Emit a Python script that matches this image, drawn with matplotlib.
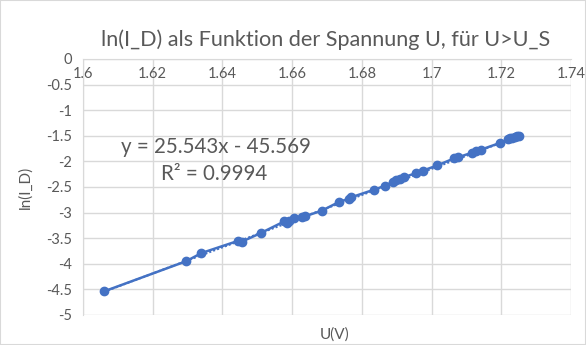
import matplotlib
matplotlib.use("Agg")
import matplotlib.pyplot as plt
from matplotlib.patches import Rectangle

# measured points: U in volt, ln(I_D)
u_vals = [1.6060, 1.6296, 1.6340, 1.6446, 1.6455, 1.6510, 1.6578, 1.6584, 1.6592,
          1.6606, 1.6628, 1.6638, 1.6686, 1.6735, 1.6763, 1.6770, 1.6836, 1.6865,
          1.6889, 1.6898, 1.6910, 1.6920, 1.6955, 1.6975, 1.7016, 1.7065, 1.7076,
          1.7116, 1.7128, 1.7142, 1.7196, 1.7218, 1.7225, 1.7232, 1.7238, 1.7244,
          1.7250]
ln_id = [-4.54, -3.95, -3.79, -3.55, -3.57, -3.40, -3.17, -3.21, -3.17,
         -3.11, -3.09, -3.07, -2.96, -2.79, -2.73, -2.70, -2.55, -2.48,
         -2.40, -2.37, -2.34, -2.31, -2.23, -2.18, -2.08, -1.94, -1.92,
         -1.83, -1.80, -1.77, -1.64, -1.57, -1.55, -1.54, -1.52, -1.51,
         -1.50]

# linear trendline as shown in the chart
trend_slope = 25.543
trend_intercept = -45.569
r_squared = 0.9994

x_ticks = [1.6, 1.62, 1.64, 1.66, 1.68, 1.7, 1.72, 1.74]
x_labels = ["1.6", "1.62", "1.64", "1.66", "1.68", "1.7", "1.72", "1.74"]
y_ticks = [0, -0.5, -1, -1.5, -2, -2.5, -3, -3.5, -4, -4.5, -5]
y_labels = ["0", "-0.5", "-1", "-1.5", "-2", "-2.5", "-3", "-3.5", "-4", "-4.5", "-5"]

blue = "#4472C4"
txt = "#595959"
grid = "#d9d9d9"
plt.rcParams["font.family"] = ["Lato", "DejaVu Sans"]

fig = plt.figure(figsize=(5.86, 3.45), dpi=100)
fig.patches.append(Rectangle((0, 0), 1, 1, transform=fig.transFigure,
                             fill=False, edgecolor=grid, lw=1.5))
ax = fig.add_axes([0.1416, 0.087, 0.8328, 0.742])

ax.set_xlim(1.6, 1.74)
ax.set_ylim(-5, 0)
ax.set_xticks(x_ticks, x_labels)
ax.set_yticks(y_ticks, y_labels)
ax.grid(True, color=grid, lw=1)
ax.set_axisbelow(True)

for s in ["top", "right"]:
    ax.spines[s].set_visible(False)
ax.spines["left"].set_color(grid)
ax.spines["bottom"].set_position(("data", 0))
ax.spines["bottom"].set_color(grid)
ax.tick_params(length=0, colors=txt, labelsize=10.5)
ax.tick_params(axis="x", pad=6)
ax.tick_params(axis="y", pad=8)

ax.plot(u_vals, ln_id, color=blue, lw=1.8, marker="o", ms=6, zorder=3)
tx = [min(u_vals), max(u_vals)]
ty = [trend_slope * v + trend_intercept for v in tx]
ax.plot(tx, ty, color=blue, lw=1.5, ls=(0, (1, 1)), zorder=2)

ax.text(1.611, -1.72, f"y = {trend_slope}x - {-trend_intercept}",
        fontsize=14.8, color=txt, va="center")
ax.text(1.6225, -2.25, f"R² = {r_squared}", fontsize=14.8, color=txt, va="center")

ax.set_ylabel("ln(I_D)", color=txt, fontsize=11)
ax.yaxis.set_label_coords(-0.104, 0.5)
ax.set_xlabel("U(V)", color=txt, fontsize=11)
ax.xaxis.set_label_coords(0.516, -0.048)
fig.text(0.556, 0.885, "ln(I_D) als Funktion der Spannung U, für U>U_S",
         ha="center", va="center", fontsize=15.6, color=txt)

fig.savefig("out.png", dpi=100)
